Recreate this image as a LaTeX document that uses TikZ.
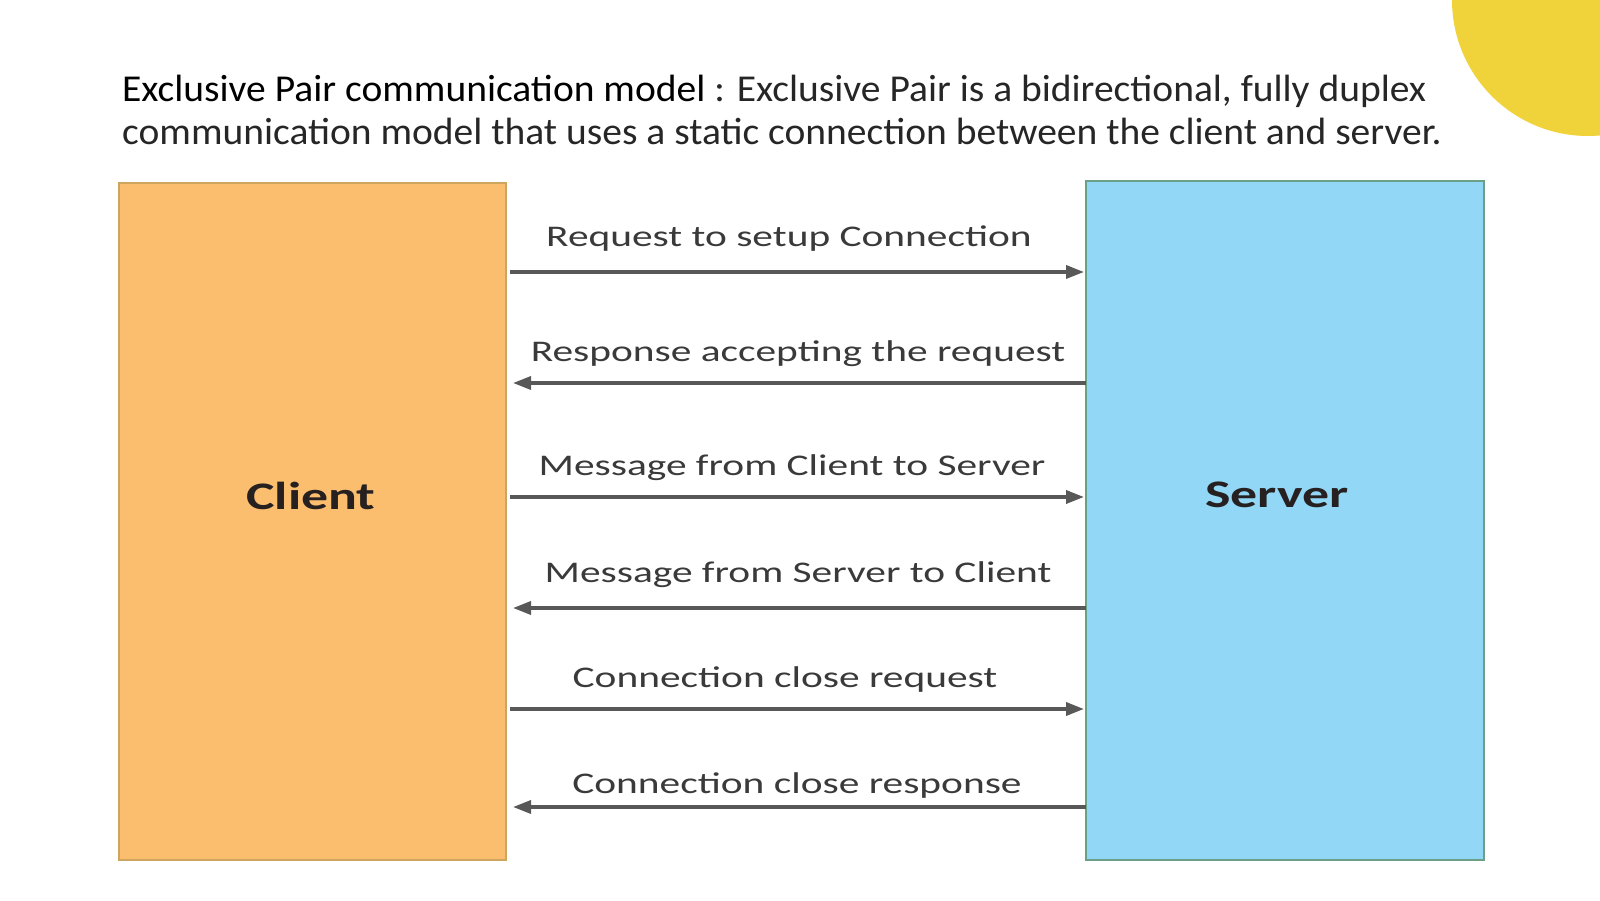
\documentclass[tikz,border=0pt]{standalone}
\usepackage{fontspec}
\setmainfont{Carlito}
\newfontfamily\headfont[FakeStretch=1.04]{Carlito}
\newfontfamily\diagfont[FakeStretch=1.38]{Carlito}
\usepackage{xcolor}
\usetikzlibrary{arrows.meta,positioning}
\definecolor{clientfill}{RGB}{251,190,110}
\definecolor{clientline}{RGB}{205,165,95}
\definecolor{serverfill}{RGB}{146,215,246}
\definecolor{serverline}{RGB}{105,160,135}
\definecolor{arrowgray}{RGB}{88,88,88}
\definecolor{labelgray}{RGB}{58,58,58}
\definecolor{boxtext}{RGB}{38,32,32}
\definecolor{sunyellow}{RGB}{240,211,58}

\begin{document}
\begin{tikzpicture}[x=1pt,y=1pt,
  ttl/.style={anchor=base west,inner sep=0pt,font=\headfont\fontsize{38}{44}\selectfont},
  box/.style={draw,line width=2.5pt,outer sep=0pt,inner sep=0pt},
  who/.style={anchor=base,inner sep=0pt,text=boxtext,font=\diagfont\bfseries\fontsize{39}{44}\selectfont},
  lbl/.style={anchor=base,inner sep=0pt,text=labelgray,font=\diagfont\fontsize{30}{36}\selectfont},
  ar/.style={draw=arrowgray,line width=3.5pt,-{Triangle[length=18pt,width=13pt]}}]
\clip (0,0) rectangle (1600,900);
\fill[white] (0,0) rectangle (1600,900);
\fill[sunyellow] (1588,900) circle (136);
% heading
\node[ttl] (title1) at (122,798) {Exclusive Pair communication model {\color{black!85}: Exclusive Pair is a bidirectional, fully duplex}};
\node[ttl,text=black!85] (title2) at (122,755) {communication model that uses a static connection between the client and server.};
% the two ends
\node[box,fill=clientfill,draw=clientline,minimum width=387,minimum height=677] (client) at (312.5,378.5) {};
\node[box,fill=serverfill,draw=serverline,minimum width=398,minimum height=679] (server) at (1285,379.5) {};
\node[who] (clienttxt) at (311,390) {Client};
\node[who] (servertxt) at (1277,392) {Server};
% messages
\node[lbl] (m1) at (789,653) {Request to setup Connection};
\node[lbl] (m2) at (798,538) {Response accepting the request};
\node[lbl] (m3) at (792,424) {Message from Client to Server};
\node[lbl] (m4) at (798,317) {Message from Server to Client};
\node[lbl] (m5) at (785,213) {Connection close request};
\node[lbl] (m6) at (797,107) {Connection close response};
\foreach \y in {628,403,191} \draw[ar,shorten <=4pt,shorten >=2pt] (client.east |- 0,\y) -- (server.west |- 0,\y);
\foreach \y in {517,292,93} \draw[ar,shorten >=7pt] (server.west |- 0,\y) -- (client.east |- 0,\y);
\end{tikzpicture}
\end{document}
